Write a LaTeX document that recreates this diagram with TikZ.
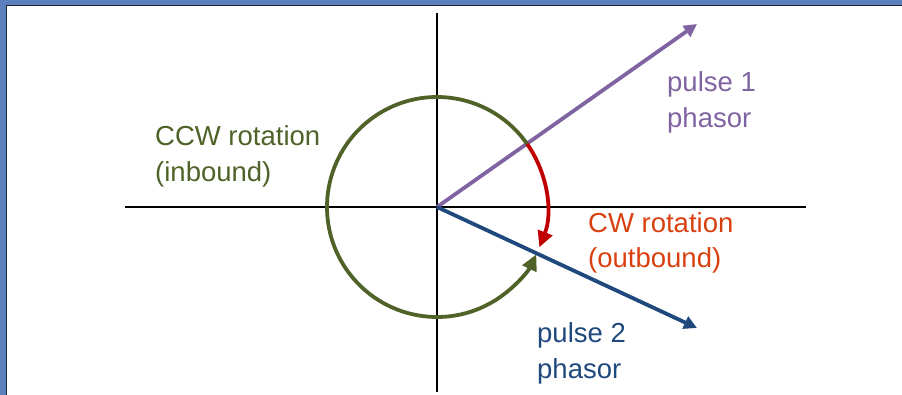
\documentclass[tikz,border=0pt]{standalone}
\usepackage{fontspec}
\setmainfont{Liberation Sans}
\usetikzlibrary{arrows.meta}
\definecolor{frameblue}{HTML}{5B80BD}
\definecolor{framedark}{HTML}{1C2436}
\definecolor{ccwgreen}{HTML}{4F6228}
\definecolor{pulsepurple}{HTML}{8064A2}
\definecolor{pulseblue}{HTML}{1F497D}
\definecolor{cwred}{HTML}{C00000}
\definecolor{cwtext}{HTML}{D9400F}
\tikzset{
  axis/.style={draw=black, line width=1.6pt},
  phasor/.style={line width=3.8pt, -{Triangle[length=13pt,width=13pt]}},
  rot/.style={line width=3.8pt, -{Triangle[length=16pt,width=15pt]}},
  lbl/.style={anchor=base west, inner sep=0pt, font=\fontsize{27.5}{36}\selectfont},
}
\begin{document}
\begin{tikzpicture}[x=1pt,y=-1pt]
\useasboundingbox (0,0) rectangle (902,395);
% frame
\fill[frameblue] (0,0) rectangle (7,395);
\fill[frameblue] (0,0) rectangle (902,5);
\draw[framedark, line width=1.3pt] (6.5,395) -- (6.5,5.5) -- (902,5.5);
% axes
\coordinate (O) at (437,207);
\coordinate (xl) at (125,207);
\coordinate (xr) at (806,207);
\coordinate (yt) at (437,13);
\coordinate (yb) at (437,392);
\draw[axis] (xl) -- (xr);
\draw[axis] (yt) -- (yb);
% phasors
\coordinate (p1) at (697,24);
\coordinate (p2) at (697,328);
\draw[phasor, pulsepurple] (O) -- (p1);
\draw[phasor, pulseblue] (O) -- (p2);
% rotations (y axis flipped: angles measured clockwise visually)
\draw[rot, ccwgreen] (O) ++(-35:110) arc[start angle=-35, end angle=-334.5, radius=110];
\draw[rot, cwred] (O) ++(-35:110) arc[start angle=-35, end angle=21.5, radius=110];
% labels
\node[lbl, ccwgreen] (ccw1) at (155,146) {CCW rotation};
\node[lbl, ccwgreen] (ccw2) at (155,182) {(inbound)};
\node[lbl, cwtext] (cw1) at (588,233) {CW rotation};
\node[lbl, cwtext] (cw2) at (588,268) {(outbound)};
\node[lbl, pulsepurple] (l1a) at (667,92) {pulse 1};
\node[lbl, pulsepurple] (l1b) at (667,128) {phasor};
\node[lbl, pulseblue] (l2a) at (537,342) {pulse 2};
\node[lbl, pulseblue] (l2b) at (537,378) {phasor};
\end{tikzpicture}
\end{document}
